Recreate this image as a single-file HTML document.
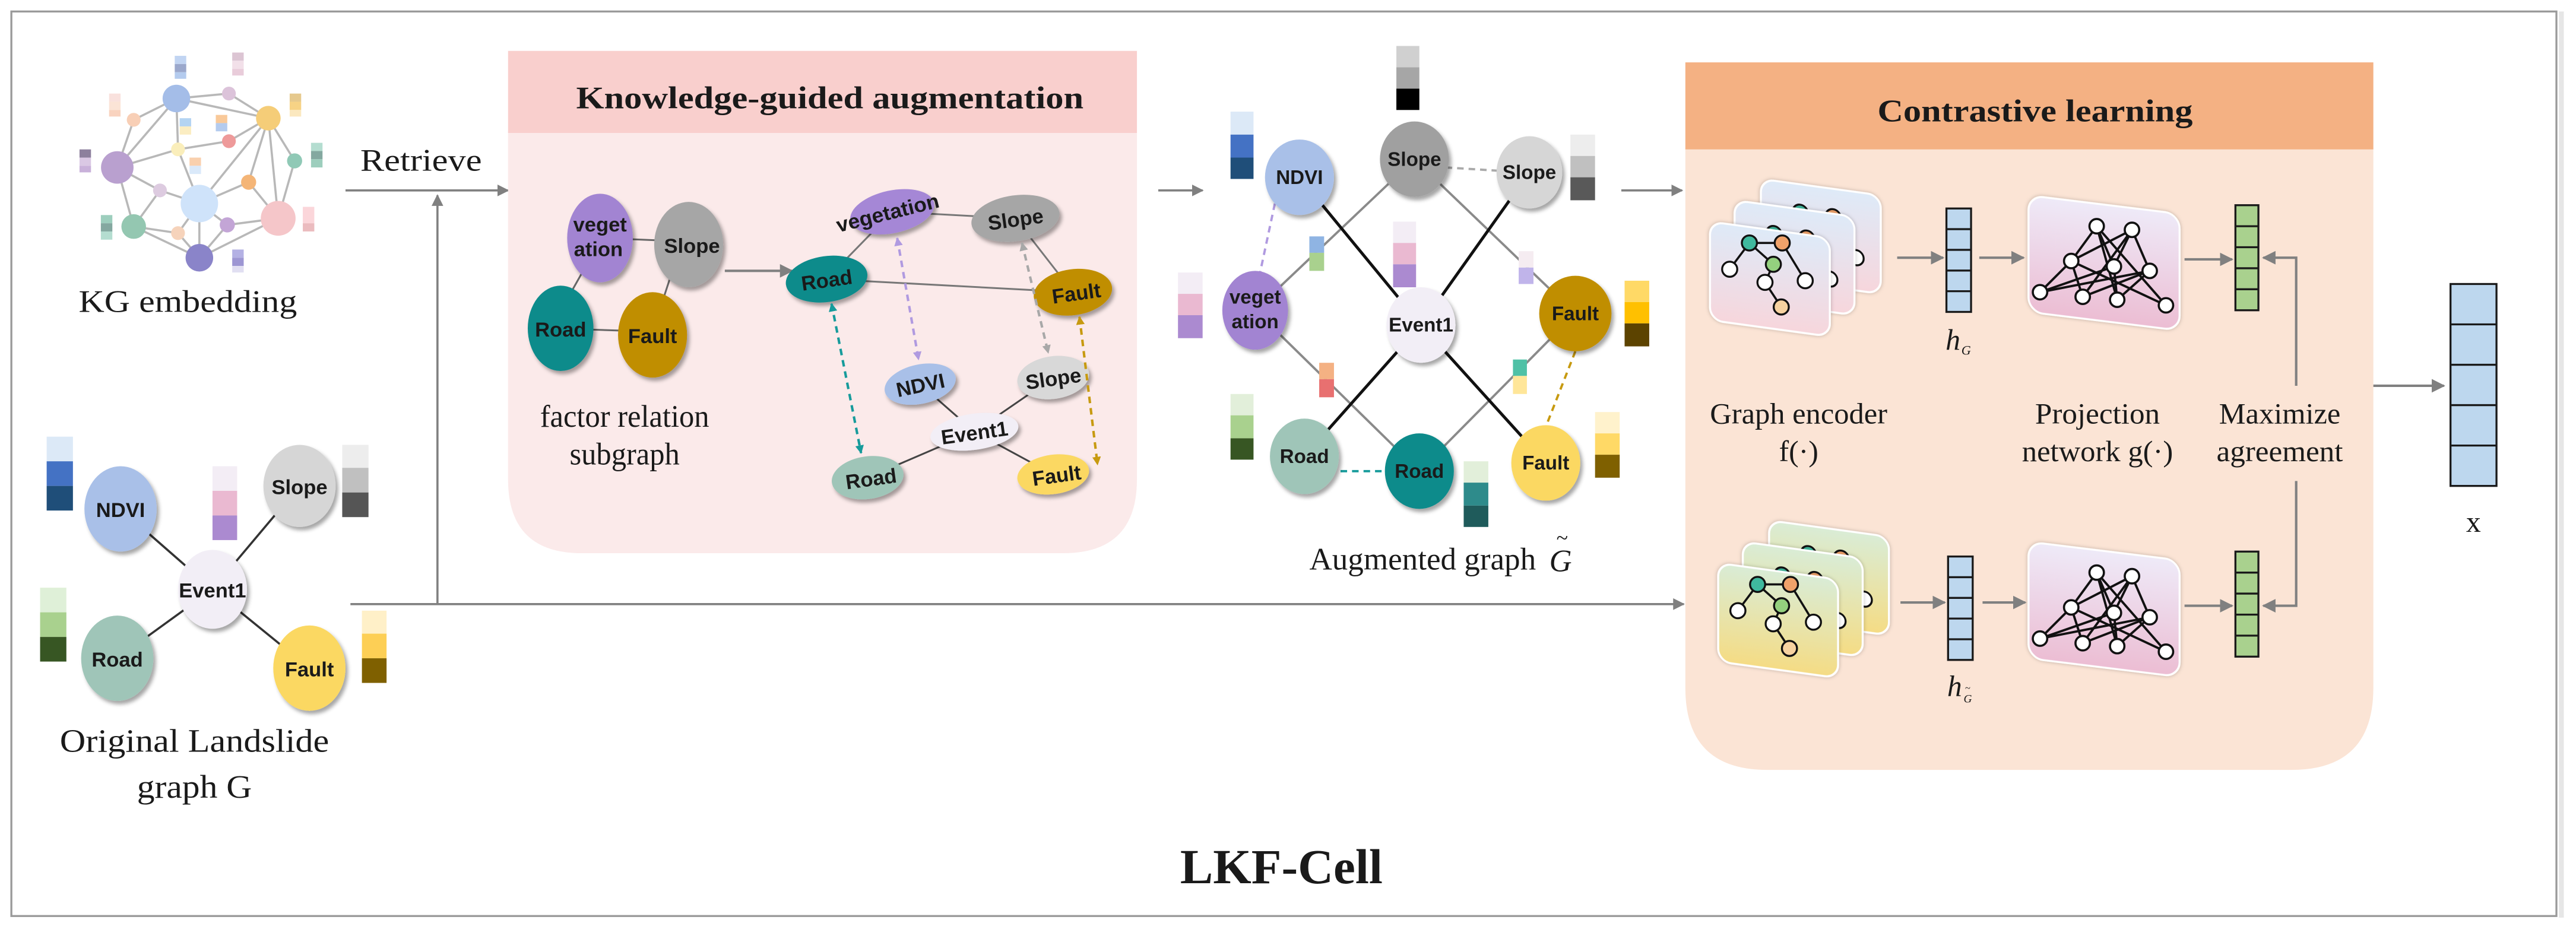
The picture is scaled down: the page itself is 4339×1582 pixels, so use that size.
<!DOCTYPE html>
<html><head><meta charset="utf-8"><style>
html,body{margin:0;padding:0;background:#fff;}
svg{display:block;}
.nl{font-family:"WenQuanYi Zen Hei","Liberation Sans",sans-serif;font-weight:bold;fill:#1a1a1a;text-anchor:middle;}
.sf{font-family:"Liberation Serif",serif;fill:#1a1a1a;text-anchor:middle;}
</style></head><body>
<svg width="4339" height="1582" viewBox="0 0 1568 572" xmlns="http://www.w3.org/2000/svg">
<defs>
<filter id="sh" x="-30%" y="-30%" width="160%" height="160%"><feDropShadow dx="1.5" dy="2" stdDeviation="1.2" flood-color="#000" flood-opacity="0.35"/></filter>
<filter id="sh2" x="-20%" y="-20%" width="140%" height="140%"><feDropShadow dx="0" dy="0" stdDeviation="1.2" flood-color="#000" flood-opacity="0.25"/></filter>
<marker id="ar" viewBox="0 0 10 10" refX="9" refY="5" markerWidth="5.5" markerHeight="5.5" orient="auto"><path d="M0,0L10,5L0,10z" fill="#808080"/></marker>
<marker id="at" viewBox="0 0 10 10" refX="9" refY="5" markerWidth="3.5" markerHeight="3.5" orient="auto-start-reverse"><path d="M0,0L10,5L0,10z" fill="#169b9b"/></marker>
<marker id="ap" viewBox="0 0 10 10" refX="9" refY="5" markerWidth="3.5" markerHeight="3.5" orient="auto-start-reverse"><path d="M0,0L10,5L0,10z" fill="#b09ae0"/></marker>
<marker id="ag" viewBox="0 0 10 10" refX="9" refY="5" markerWidth="3.5" markerHeight="3.5" orient="auto-start-reverse"><path d="M0,0L10,5L0,10z" fill="#a8a8a8"/></marker>
<marker id="ay" viewBox="0 0 10 10" refX="9" refY="5" markerWidth="3.5" markerHeight="3.5" orient="auto-start-reverse"><path d="M0,0L10,5L0,10z" fill="#c79a10"/></marker>
<linearGradient id="gb" x1="0" y1="0" x2="0" y2="1"><stop offset="0" stop-color="#deeaf8"/><stop offset="1" stop-color="#f7d6dc"/></linearGradient>
<linearGradient id="gy" x1="0" y1="0" x2="0" y2="1"><stop offset="0" stop-color="#d9ecd6"/><stop offset="1" stop-color="#f5dc84"/></linearGradient>
<linearGradient id="gp" x1="0" y1="0" x2="0" y2="1"><stop offset="0" stop-color="#eeeaf8"/><stop offset="1" stop-color="#ecbdd3"/></linearGradient>
<g id="mini">
 <g stroke="#111" stroke-width="1.3">
 <line x1="24" y1="17" x2="44" y2="17"/><line x1="24" y1="17" x2="12" y2="33"/><line x1="24" y1="17" x2="38.6" y2="30"/>
 <line x1="44" y1="17" x2="58" y2="40"/><line x1="38.6" y1="30" x2="33.5" y2="41"/><line x1="33.5" y1="41" x2="43.4" y2="56"/>
 </g>
 <g stroke="#111" stroke-width="1.2">
 <circle cx="24" cy="17" r="4.6" fill="#3fb99e"/><circle cx="44" cy="17" r="4.6" fill="#f0a26a"/><circle cx="38.6" cy="30" r="4.6" fill="#94d07e"/>
 <circle cx="12" cy="33" r="4.6" fill="#fff"/><circle cx="33.5" cy="41" r="4.6" fill="#fff"/><circle cx="58" cy="40" r="4.6" fill="#fff"/><circle cx="43.4" cy="56" r="4.6" fill="#f6d2a0"/>
 </g>
</g>
<g id="net">
 <g stroke="#111" stroke-width="1.4">
 <line x1="41.5" y1="18.8" x2="26" y2="40"/><line x1="41.5" y1="18.8" x2="54" y2="63.6"/><line x1="41.5" y1="18.8" x2="52" y2="43.3"/><line x1="41.5" y1="18.8" x2="83.7" y2="67"/>
 <line x1="63" y1="21" x2="52" y2="43.3"/><line x1="63" y1="21" x2="73.8" y2="46"/><line x1="63" y1="21" x2="33" y2="61.8"/><line x1="63" y1="21" x2="26" y2="40"/>
 <line x1="26" y1="40" x2="7" y2="59"/><line x1="26" y1="40" x2="33" y2="61.8"/><line x1="26" y1="40" x2="83.7" y2="67"/>
 <line x1="52" y1="43.3" x2="7" y2="59"/><line x1="52" y1="43.3" x2="54" y2="63.6"/><line x1="73.8" y1="46" x2="7" y2="59"/><line x1="73.8" y1="46" x2="33" y2="61.8"/><line x1="73.8" y1="46" x2="54" y2="63.6"/>
 </g>
 <g stroke="#111" stroke-width="1.3" fill="#fff">
 <circle cx="41.5" cy="18.8" r="4.4"/><circle cx="63" cy="21" r="4.4"/><circle cx="26" cy="40" r="4.4"/><circle cx="52" cy="43.3" r="4.4"/><circle cx="73.8" cy="46" r="4.4"/>
 <circle cx="7" cy="59" r="4.4"/><circle cx="33" cy="61.8" r="4.4"/><circle cx="54" cy="63.6" r="4.4"/><circle cx="83.7" cy="67" r="4.4"/>
 </g>
</g>
</defs>

<rect x="0" y="0" width="1568" height="572" fill="#fff"/>
<rect x="6.5" y="7" width="1550" height="551" fill="none" stroke="#9a9a9a" stroke-width="1.2"/>
<rect x="1558" y="7" width="3" height="552" fill="#e6e6e6"/>

<!-- KG embedding -->
<g stroke="#b8b8b8" stroke-width="1.3">
<line x1="107" y1="60" x2="139" y2="57"/><line x1="107" y1="60" x2="163" y2="72"/><line x1="139" y1="57" x2="163" y2="72"/>
<line x1="107" y1="60" x2="81" y2="73"/><line x1="81" y1="73" x2="71" y2="102"/><line x1="107" y1="60" x2="71" y2="102"/>
<line x1="107" y1="60" x2="108" y2="91"/><line x1="108" y1="91" x2="139" y2="86"/><line x1="139" y1="86" x2="163" y2="72"/>
<line x1="108" y1="91" x2="71" y2="102"/><line x1="108" y1="91" x2="121" y2="124"/><line x1="163" y1="72" x2="121" y2="124"/>
<line x1="163" y1="72" x2="151" y2="111"/><line x1="163" y1="72" x2="169" y2="133"/><line x1="163" y1="72" x2="179" y2="98"/>
<line x1="179" y1="98" x2="169" y2="133"/><line x1="151" y1="111" x2="121" y2="124"/><line x1="151" y1="111" x2="169" y2="133"/>
<line x1="71" y1="102" x2="97" y2="116"/><line x1="71" y1="102" x2="81" y2="138"/><line x1="97" y1="116" x2="121" y2="124"/><line x1="97" y1="116" x2="81" y2="138"/>
<line x1="81" y1="138" x2="108" y2="142"/><line x1="81" y1="138" x2="121" y2="157"/><line x1="108" y1="142" x2="121" y2="124"/><line x1="108" y1="142" x2="121" y2="157"/>
<line x1="121" y1="124" x2="121" y2="157"/><line x1="121" y1="124" x2="138" y2="137"/><line x1="138" y1="137" x2="169" y2="133"/><line x1="138" y1="137" x2="121" y2="157"/><line x1="121" y1="157" x2="169" y2="133"/>
</g>
<g>
<circle cx="107" cy="60" r="8.4" fill="#a4bde8"/><circle cx="139" cy="57" r="4.2" fill="#dcc3da"/><circle cx="163" cy="72" r="7.5" fill="#f5cd78"/>
<circle cx="81" cy="73" r="4.2" fill="#f8cfb6"/><circle cx="108" cy="91" r="4.2" fill="#faeebb"/><circle cx="139" cy="86" r="4.2" fill="#ee9a9a"/>
<circle cx="71" cy="102" r="9.9" fill="#b9a0cf"/><circle cx="179" cy="98" r="4.6" fill="#90c9b6"/><circle cx="151" cy="111" r="4.6" fill="#f4b577"/>
<circle cx="97" cy="116" r="4.2" fill="#ddcbe0"/><circle cx="121" cy="124" r="11.4" fill="#cfe3fa"/><circle cx="169" cy="133" r="10.6" fill="#f5c6c9"/>
<circle cx="81" cy="138" r="7.5" fill="#94c7b1"/><circle cx="108" cy="142" r="4.2" fill="#f6d3bb"/><circle cx="138" cy="137" r="4.6" fill="#c3a5d6"/><circle cx="121" cy="157" r="8.4" fill="#8a84c9"/>
</g>
<g opacity="0.85">
<rect x="106" y="34" width="7" height="5" fill="#b7cdf0"/><rect x="106" y="39" width="7" height="5" fill="#8a9ac4"/><rect x="106" y="44" width="7" height="4" fill="#a8c2ec"/>
<rect x="141" y="32" width="7" height="5" fill="#d6bccc"/><rect x="141" y="37" width="7" height="5" fill="#f0dbe6"/><rect x="141" y="42" width="7" height="4" fill="#e6c4d4"/>
<rect x="66" y="57" width="7" height="5" fill="#f8dcd8"/><rect x="66" y="62" width="7" height="5" fill="#fbe0d0"/><rect x="66" y="67" width="7" height="4" fill="#f8ccb4"/>
<rect x="176" y="57" width="7" height="5" fill="#e2c07a"/><rect x="176" y="62" width="7" height="5" fill="#f6cc70"/><rect x="176" y="67" width="7" height="4" fill="#fbe4b4"/>
<rect x="48" y="91" width="7" height="5" fill="#7a6a8c"/><rect x="48" y="96" width="7" height="5" fill="#d4bfe0"/><rect x="48" y="101" width="7" height="4" fill="#c0a4d4"/>
<rect x="189" y="87" width="7" height="5" fill="#a8d8c8"/><rect x="189" y="92" width="7" height="5" fill="#6f9a90"/><rect x="189" y="97" width="7" height="5" fill="#8cc6b2"/>
<rect x="61" y="131" width="7" height="5" fill="#8cc6b2"/><rect x="61" y="136" width="7" height="5" fill="#6f9a90"/><rect x="61" y="141" width="7" height="5" fill="#a8d8c8"/>
<rect x="184" y="126" width="7" height="10" fill="#fbd0d4"/><rect x="184" y="136" width="7" height="5" fill="#e8b0b4"/>
<rect x="141" y="152" width="7" height="5" fill="#a8a4e0"/><rect x="141" y="157" width="7" height="5" fill="#8c84cc"/><rect x="141" y="162" width="7" height="4" fill="#dcdaf0"/>
<rect x="109" y="72" width="7" height="5" fill="#a8cdf0"/><rect x="109" y="77" width="7" height="5" fill="#fbeab8"/>
<rect x="131" y="70" width="7" height="5" fill="#f8c088"/><rect x="131" y="75" width="7" height="5" fill="#a8c2ec"/>
<rect x="115" y="96" width="7" height="5" fill="#f8c8a0"/><rect x="115" y="101" width="7" height="5" fill="#d4e6fa"/>
</g>
<text class="sf" x="114" y="190" font-size="19" textLength="133" lengthAdjust="spacingAndGlyphs">KG embedding</text>

<!-- Retrieve arrows -->
<text class="sf" x="256" y="104" font-size="19" textLength="74" lengthAdjust="spacingAndGlyphs">Retrieve</text>
<line x1="210" y1="116" x2="309" y2="116" stroke="#808080" stroke-width="1.3" marker-end="url(#ar)"/>
<line x1="266" y1="368" x2="266" y2="119" stroke="#808080" stroke-width="1.3" marker-end="url(#ar)"/>
<line x1="213" y1="368" x2="1025" y2="368" stroke="#808080" stroke-width="1.3" marker-end="url(#ar)"/>

<!-- Original graph -->
<g stroke="#333" stroke-width="1.3">
<line x1="73" y1="310" x2="129" y2="359"/><line x1="182" y1="296" x2="129" y2="359"/><line x1="129" y1="359" x2="71" y2="401"/><line x1="129" y1="359" x2="188" y2="407"/>
</g>
<g filter="url(#sh)">
<ellipse cx="73" cy="310" rx="22" ry="26" fill="#a9c0e8"/><ellipse cx="182" cy="296" rx="22" ry="25" fill="#d6d6d6"/>
<ellipse cx="129" cy="359" rx="21" ry="24" fill="#f2eef6"/><ellipse cx="71" cy="401" rx="22" ry="26" fill="#9fc5b8"/><ellipse cx="188" cy="407" rx="22" ry="26" fill="#fbd862"/>
</g>
<g class="nl" font-size="12.5">
<text x="73" y="315">NDVI</text><text x="182" y="301">Slope</text>
<text x="129" y="364">Event1</text><text x="71" y="406">Road</text><text x="188" y="412">Fault</text>
</g>
<rect x="28" y="266" width="16" height="15" fill="#dce9f7"/><rect x="28" y="281" width="16" height="15" fill="#4472c4"/><rect x="28" y="296" width="16" height="15" fill="#1f4e79"/>
<rect x="129" y="284" width="15" height="15" fill="#f3edf5"/><rect x="129" y="299" width="15" height="15" fill="#eab9d1"/><rect x="129" y="314" width="15" height="15" fill="#ab8ad0"/>
<rect x="208" y="271" width="16" height="14" fill="#ededed"/><rect x="208" y="285" width="16" height="15" fill="#c0c0c0"/><rect x="208" y="300" width="16" height="15" fill="#555"/>
<rect x="24" y="358" width="16" height="15" fill="#dff0d8"/><rect x="24" y="373" width="16" height="15" fill="#a9d18e"/><rect x="24" y="388" width="16" height="15" fill="#375623"/>
<rect x="220" y="372" width="15" height="14" fill="#fff0c8"/><rect x="220" y="386" width="15" height="15" fill="#fdcf55"/><rect x="220" y="401" width="15" height="15" fill="#7f6000"/>
<text class="sf" x="118" y="458" font-size="20" textLength="164" lengthAdjust="spacingAndGlyphs">Original Landslide</text>
<text class="sf" x="118" y="486" font-size="20" textLength="70" lengthAdjust="spacingAndGlyphs">graph G</text>

<!-- Knowledge-guided box -->
<path d="M309,80 L692,80 L692,292 Q692,337 647,337 L354,337 Q309,337 309,292 Z" fill="#fbeaea"/>
<rect x="309" y="31" width="383" height="50" fill="#f9cfcd"/>
<text class="sf" x="505" y="66" font-size="19" font-weight="bold" textLength="309" lengthAdjust="spacingAndGlyphs">Knowledge-guided augmentation</text>
<g stroke="#666" stroke-width="1.1">
<line x1="366" y1="145" x2="415" y2="147"/><line x1="366" y1="145" x2="335" y2="200"/><line x1="415" y1="147" x2="397" y2="202"/><line x1="335" y1="200" x2="397" y2="202"/>
</g>
<g filter="url(#sh)">
<ellipse cx="365" cy="145" rx="20" ry="27" fill="#a284d2"/><ellipse cx="419" cy="149" rx="21" ry="26" fill="#a6a6a6"/>
<ellipse cx="341" cy="200" rx="20" ry="26" fill="#0f8b8b"/><ellipse cx="397" cy="204" rx="21" ry="26" fill="#c08e00"/>
</g>
<g class="nl" font-size="12.5">
<text x="365" y="141">veget</text><text x="364" y="156">ation</text>
<text x="421" y="154">Slope</text><text x="341" y="205">Road</text><text x="397" y="209">Fault</text>
</g>
<line x1="441" y1="165" x2="482" y2="165" stroke="#808080" stroke-width="1.5" marker-end="url(#ar)"/>
<text class="sf" x="380" y="260" font-size="19" textLength="103" lengthAdjust="spacingAndGlyphs">factor relation</text>
<text class="sf" x="380" y="283" font-size="19" textLength="67" lengthAdjust="spacingAndGlyphs">subgraph</text>
<g stroke="#777" stroke-width="1.1">
<line x1="543" y1="129" x2="618" y2="133"/><line x1="543" y1="129" x2="503" y2="170"/><line x1="618" y1="133" x2="653" y2="178"/><line x1="503" y1="170" x2="653" y2="178"/>
</g>
<g stroke="#444" stroke-width="1.1">
<line x1="560" y1="234" x2="593" y2="263"/><line x1="641" y1="230" x2="593" y2="263"/><line x1="593" y1="263" x2="528" y2="291"/><line x1="593" y1="263" x2="641" y2="289"/>
</g>
<g filter="url(#sh)">
<ellipse cx="543" cy="129" rx="26" ry="13" fill="#a587d6" transform="rotate(-12 543 129)"/>
<ellipse cx="618" cy="133" rx="27" ry="14" fill="#a6a6a6" transform="rotate(-8 618 133)"/>
<ellipse cx="503" cy="170" rx="25" ry="14" fill="#0f8b8b" transform="rotate(-8 503 170)"/>
<ellipse cx="653" cy="178" rx="24" ry="14" fill="#c08e00" transform="rotate(-8 653 178)"/>
<ellipse cx="560" cy="234" rx="22" ry="12" fill="#a9c0e8" transform="rotate(-12 560 234)"/>
<ellipse cx="641" cy="230" rx="22" ry="13" fill="#d8d8d8" transform="rotate(-8 641 230)"/>
<ellipse cx="593" cy="263" rx="27" ry="11" fill="#f2eef6" transform="rotate(-8 593 263)"/>
<ellipse cx="528" cy="291" rx="22" ry="13" fill="#9fc5b8" transform="rotate(-8 528 291)"/>
<ellipse cx="641" cy="289" rx="22" ry="12" fill="#fbd862" transform="rotate(-8 641 289)"/>
</g>
<g class="nl" font-size="12.5">
<text x="540" y="134" transform="rotate(-14 540 129)" textLength="64" lengthAdjust="spacingAndGlyphs">vegetation</text>
<text x="618" y="138" transform="rotate(-8 618 133)">Slope</text>
<text x="503" y="175" transform="rotate(-8 503 170)">Road</text>
<text x="655" y="183" transform="rotate(-8 655 178)">Fault</text>
<text x="560" y="239" transform="rotate(-12 560 234)">NDVI</text>
<text x="641" y="235" transform="rotate(-8 641 230)">Slope</text>
<text x="593" y="268" transform="rotate(-8 593 263)">Event1</text>
<text x="530" y="296" transform="rotate(-8 530 291)">Road</text>
<text x="643" y="294" transform="rotate(-8 643 289)">Fault</text>
</g>
<g stroke-width="1.5" stroke-dasharray="4,3" fill="none">
<line x1="506" y1="185" x2="524" y2="276" stroke="#169b9b" marker-start="url(#at)" marker-end="url(#at)"/>
<line x1="546" y1="145" x2="559" y2="219" stroke="#b09ae0" marker-start="url(#ap)" marker-end="url(#ap)"/>
<line x1="622" y1="148" x2="638" y2="215" stroke="#a8a8a8" marker-start="url(#ag)" marker-end="url(#ag)"/>
<line x1="657" y1="193" x2="668" y2="283" stroke="#c79a10" marker-start="url(#ay)" marker-end="url(#ay)"/>
</g>

<!-- Augmented graph -->
<line x1="705" y1="116" x2="732" y2="116" stroke="#808080" stroke-width="1.3" marker-end="url(#ar)"/>
<line x1="987" y1="116" x2="1024" y2="116" stroke="#808080" stroke-width="1.3" marker-end="url(#ar)"/>
<g stroke="#8a8a8a" stroke-width="1.4">
<line x1="861" y1="97" x2="764" y2="189"/><line x1="861" y1="97" x2="959" y2="191"/><line x1="764" y1="189" x2="864" y2="287"/><line x1="959" y1="191" x2="864" y2="287"/>
</g>
<g stroke="#111" stroke-width="1.8">
<line x1="791" y1="108" x2="865" y2="198"/><line x1="931" y1="105" x2="865" y2="198"/><line x1="865" y1="198" x2="794" y2="278"/><line x1="865" y1="198" x2="941" y2="282"/>
</g>
<g stroke-width="1.4" stroke-dasharray="4,3">
<line x1="880" y1="102" x2="912" y2="104" stroke="#aaa"/>
<line x1="776" y1="124" x2="767" y2="166" stroke="#b09ae0"/>
<line x1="816" y1="287" x2="842" y2="287" stroke="#169b9b"/>
<line x1="959" y1="214" x2="941" y2="260" stroke="#c79a10"/>
</g>
<g filter="url(#sh)">
<ellipse cx="791" cy="108" rx="21" ry="23" fill="#a9c0e8"/><ellipse cx="861" cy="97" rx="21" ry="23" fill="#a0a0a0"/><ellipse cx="931" cy="105" rx="20" ry="22" fill="#d6d6d6"/>
<ellipse cx="764" cy="189" rx="20" ry="24" fill="#a284d2"/><ellipse cx="865" cy="198" rx="21" ry="23" fill="#f2eef6"/><ellipse cx="959" cy="191" rx="22" ry="23" fill="#c08e00"/>
<ellipse cx="794" cy="278" rx="21" ry="23" fill="#9fc5b8"/><ellipse cx="864" cy="287" rx="21" ry="23" fill="#0f8b8b"/><ellipse cx="941" cy="282" rx="21" ry="23" fill="#fbd862"/>
</g>
<g class="nl" font-size="12">
<text x="791" y="112">NDVI</text><text x="861" y="101">Slope</text><text x="931" y="109">Slope</text>
<text x="764" y="185">veget</text><text x="764" y="200">ation</text><text x="865" y="202">Event1</text><text x="959" y="195">Fault</text>
<text x="794" y="282">Road</text><text x="864" y="291">Road</text><text x="941" y="286">Fault</text>
</g>
<rect x="749" y="68" width="14" height="14" fill="#dce9f7"/><rect x="749" y="82" width="14" height="14" fill="#4472c4"/><rect x="749" y="96" width="14" height="13" fill="#1f4e79"/>
<rect x="850" y="28" width="14" height="13" fill="#d0d0d0"/><rect x="850" y="41" width="14" height="13" fill="#a6a6a6"/><rect x="850" y="54" width="14" height="13" fill="#000"/>
<rect x="956" y="82" width="15" height="13" fill="#ededed"/><rect x="956" y="95" width="15" height="13" fill="#c0c0c0"/><rect x="956" y="108" width="15" height="14" fill="#595959"/>
<rect x="717" y="166" width="15" height="13" fill="#f3edf5"/><rect x="717" y="179" width="15" height="13" fill="#eab9d1"/><rect x="717" y="192" width="15" height="14" fill="#ab8ad0"/>
<rect x="848" y="135" width="14" height="13" fill="#f3edf5"/><rect x="848" y="148" width="14" height="13" fill="#eab9d1"/><rect x="848" y="161" width="14" height="14" fill="#ab8ad0"/>
<rect x="989" y="171" width="15" height="13" fill="#ffd966"/><rect x="989" y="184" width="15" height="13" fill="#ffc000"/><rect x="989" y="197" width="15" height="14" fill="#5c4300"/>
<rect x="971" y="251" width="15" height="13" fill="#fff2cc"/><rect x="971" y="264" width="15" height="13" fill="#ffd966"/><rect x="971" y="277" width="15" height="14" fill="#7f6000"/>
<rect x="749" y="240" width="14" height="13" fill="#e2efda"/><rect x="749" y="253" width="14" height="14" fill="#a9d18e"/><rect x="749" y="267" width="14" height="13" fill="#375623"/>
<rect x="891" y="281" width="15" height="13" fill="#e2efda"/><rect x="891" y="294" width="15" height="14" fill="#2e8b8b"/><rect x="891" y="308" width="15" height="13" fill="#1f5b5b"/>
<rect x="797" y="144" width="9" height="10" fill="#8fb4e3"/><rect x="797" y="154" width="9" height="11" fill="#a9d18e"/>
<rect x="803" y="221" width="9" height="10" fill="#f4b183"/><rect x="803" y="231" width="9" height="11" fill="#e87070"/>
<rect x="921" y="219" width="8.5" height="10" fill="#4fc1a6"/><rect x="921" y="229" width="8.5" height="11" fill="#ffe699"/>
<rect x="924.5" y="153" width="9" height="10" fill="#f5ecf1"/><rect x="924.5" y="163" width="9" height="10" fill="#c0b4ea"/>
<text class="sf" x="866" y="347" font-size="19" textLength="138" lengthAdjust="spacingAndGlyphs">Augmented graph</text>
<text x="950" y="348" font-family="Liberation Serif,serif" font-style="italic" font-size="19" fill="#1a1a1a" text-anchor="middle">G</text>
<text x="951" y="332" font-family="Liberation Serif,serif" font-size="13" fill="#1a1a1a" text-anchor="middle">~</text>

<!-- Contrastive learning -->
<path d="M1026,90 L1445,90 L1445,419 Q1445,469 1395,469 L1076,469 Q1026,469 1026,419 Z" fill="#fbe4d5"/>
<rect x="1026" y="38" width="419" height="53" fill="#f4b183"/>
<text class="sf" x="1239" y="74" font-size="19" font-weight="bold" textLength="192" lengthAdjust="spacingAndGlyphs">Contrastive learning</text>

<g>
 <g transform="translate(1072,109) skewY(7.8)"><rect width="73" height="60" rx="8" fill="url(#gb)" stroke="#fff" stroke-width="1.2" filter="url(#sh2)"/><use href="#mini"/></g>
 <g transform="translate(1056,122) skewY(7.8)"><rect width="73" height="60" rx="8" fill="url(#gb)" stroke="#fff" stroke-width="1.2" filter="url(#sh2)"/><use href="#mini"/></g>
 <g transform="translate(1041,135) skewY(7.8)"><rect width="73" height="60" rx="8" fill="url(#gb)" stroke="#fff" stroke-width="1.2" filter="url(#sh2)"/></g>
 <g transform="translate(1041,131)"><use href="#mini"/></g>
</g>
<g>
 <g transform="translate(1077,317) skewY(7.8)"><rect width="73" height="60" rx="8" fill="url(#gy)" stroke="#fff" stroke-width="1.2" filter="url(#sh2)"/><use href="#mini"/></g>
 <g transform="translate(1061,330) skewY(7.8)"><rect width="73" height="60" rx="8" fill="url(#gy)" stroke="#fff" stroke-width="1.2" filter="url(#sh2)"/><use href="#mini"/></g>
 <g transform="translate(1046,343) skewY(7.8)"><rect width="73" height="60" rx="8" fill="url(#gy)" stroke="#fff" stroke-width="1.2" filter="url(#sh2)"/></g>
 <g transform="translate(1046,339)"><use href="#mini"/></g>
</g>

<g transform="translate(1235,119) skewY(7)"><rect width="92" height="71" rx="9" fill="url(#gp)" stroke="#fff" stroke-width="1.2" filter="url(#sh2)"/></g>
<g transform="translate(1235,119)"><use href="#net"/></g>
<g transform="translate(1235,330) skewY(7)"><rect width="92" height="71" rx="9" fill="url(#gp)" stroke="#fff" stroke-width="1.2" filter="url(#sh2)"/></g>
<g transform="translate(1235,330)"><use href="#net"/></g>

<g stroke="#808080" stroke-width="1.5">
<line x1="1155" y1="157" x2="1183" y2="157" marker-end="url(#ar)"/><line x1="1205" y1="157" x2="1232" y2="157" marker-end="url(#ar)"/><line x1="1330" y1="158" x2="1359" y2="158" marker-end="url(#ar)"/>
<line x1="1157" y1="367" x2="1184" y2="367" marker-end="url(#ar)"/><line x1="1207" y1="367" x2="1233" y2="367" marker-end="url(#ar)"/><line x1="1330" y1="369" x2="1359" y2="369" marker-end="url(#ar)"/>
<polyline points="1398,235 1398,157 1378,157" fill="none" marker-end="url(#ar)"/>
<polyline points="1398,293 1398,369 1378,369" fill="none" marker-end="url(#ar)"/>
<line x1="1445" y1="235" x2="1488" y2="235" marker-end="url(#ar)"/>
</g>

<g stroke="#1a1a1a" stroke-width="1.2">
<rect x="1185" y="127" width="15" height="63" fill="#bdd7ee"/><line x1="1185" y1="139.6" x2="1200" y2="139.6"/><line x1="1185" y1="152.2" x2="1200" y2="152.2"/><line x1="1185" y1="164.8" x2="1200" y2="164.8"/><line x1="1185" y1="177.4" x2="1200" y2="177.4"/>
<rect x="1186" y="339" width="15" height="63" fill="#bdd7ee"/><line x1="1186" y1="351.6" x2="1201" y2="351.6"/><line x1="1186" y1="364.2" x2="1201" y2="364.2"/><line x1="1186" y1="376.8" x2="1201" y2="376.8"/><line x1="1186" y1="389.4" x2="1201" y2="389.4"/>
<rect x="1361" y="125" width="14" height="64" fill="#a9d18e"/><line x1="1361" y1="137.8" x2="1375" y2="137.8"/><line x1="1361" y1="150.6" x2="1375" y2="150.6"/><line x1="1361" y1="163.4" x2="1375" y2="163.4"/><line x1="1361" y1="176.2" x2="1375" y2="176.2"/>
<rect x="1361" y="336" width="14" height="64" fill="#a9d18e"/><line x1="1361" y1="348.8" x2="1375" y2="348.8"/><line x1="1361" y1="361.6" x2="1375" y2="361.6"/><line x1="1361" y1="374.4" x2="1375" y2="374.4"/><line x1="1361" y1="387.2" x2="1375" y2="387.2"/>
<rect x="1492" y="173" width="28" height="123" fill="#bdd7ee"/><line x1="1492" y1="197.6" x2="1520" y2="197.6"/><line x1="1492" y1="222.2" x2="1520" y2="222.2"/><line x1="1492" y1="246.8" x2="1520" y2="246.8"/><line x1="1492" y1="271.4" x2="1520" y2="271.4"/>
</g>
<text x="1189" y="213" font-family="Liberation Serif,serif" font-style="italic" font-size="18" fill="#1a1a1a" text-anchor="middle">h</text>
<text x="1197" y="216" font-family="Liberation Serif,serif" font-style="italic" font-size="8" fill="#1a1a1a" text-anchor="middle">G</text>
<text x="1190" y="424" font-family="Liberation Serif,serif" font-style="italic" font-size="18" fill="#1a1a1a" text-anchor="middle">h</text>
<text x="1198" y="428" font-family="Liberation Serif,serif" font-style="italic" font-size="7" fill="#1a1a1a" text-anchor="middle">G</text>
<text x="1198" y="421" font-family="Liberation Serif,serif" font-size="6" fill="#1a1a1a" text-anchor="middle">~</text>

<g class="sf" font-size="18">
<text x="1095" y="258" textLength="108" lengthAdjust="spacingAndGlyphs">Graph encoder</text>
<text x="1095" y="281">f(·)</text>
<text x="1277" y="258" textLength="76" lengthAdjust="spacingAndGlyphs">Projection</text>
<text x="1277" y="281" textLength="92" lengthAdjust="spacingAndGlyphs">network g(·)</text>
<text x="1388" y="258" textLength="74" lengthAdjust="spacingAndGlyphs">Maximize</text>
<text x="1388" y="281" textLength="77" lengthAdjust="spacingAndGlyphs">agreement</text>
<text x="1506" y="324">x</text>
</g>

<text class="sf" x="780" y="538" font-size="30" font-weight="bold">LKF-Cell</text>
</svg>
</body></html>
